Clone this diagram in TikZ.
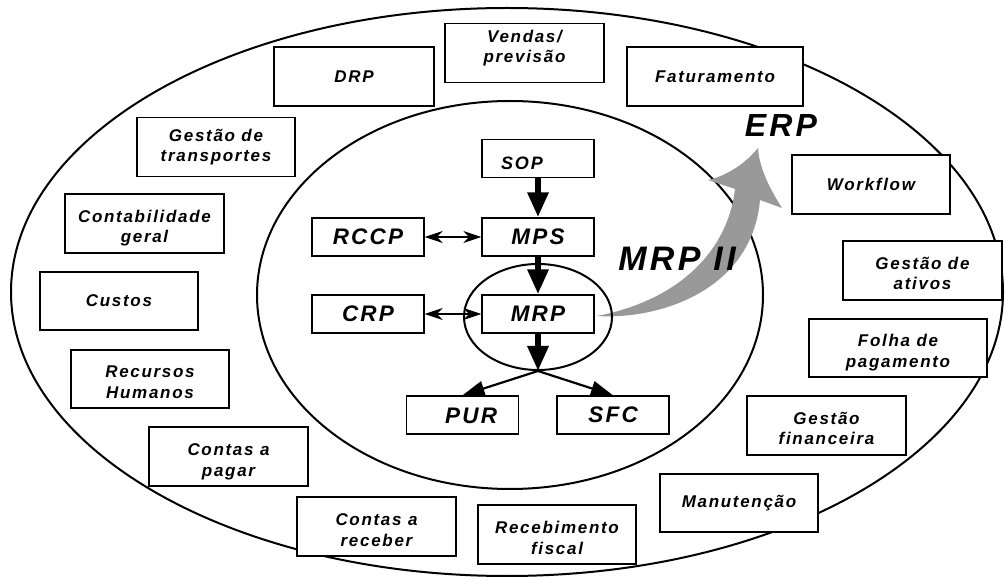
\documentclass[tikz,border=0pt]{standalone}
\usepackage{fontspec}
\setmainfont{Liberation Sans}
\newfontfamily\boxfont[LetterSpace=10]{Liberation Sans}
\usetikzlibrary{arrows.meta}

\begin{document}
\begin{tikzpicture}[x=1pt,y=-1pt,
	outbox/.style={draw, fill=white, line width=1.4pt, minimum width=159pt, minimum height=59pt, inner sep=0pt, align=center, font=\boxfont\bfseries\itshape\fontsize{17}{20.5}\selectfont},
	twoline/.style={text height=39pt, text depth=0pt},
	inbox/.style={draw, fill=white, line width=1.4pt, minimum width=112pt, minimum height=38pt, inner sep=0pt, font=\boxfont\bfseries\itshape\fontsize{22.5}{26}\selectfont},
	intext/.style={inner sep=0pt, font=\boxfont\bfseries\itshape\fontsize{22.5}{26}\selectfont},
	bigarrow/.style={line width=6pt, -{Triangle[length=25pt,width=20pt]}},
	thinarrow/.style={line width=2.2pt, -{Triangle[length=22pt,width=15pt]}},
	dblarrow/.style={line width=1.3pt, {Stealth[length=18pt,width=12pt]}-{Stealth[length=18pt,width=12pt]}}]

		\definecolor{arrowGray}{RGB}{153,153,153}

		\useasboundingbox (0,0) rectangle (1005,577);

		% rings
		\draw[line width=2pt] (507,292) ellipse [x radius=496pt, y radius=284pt];
		\draw[line width=2pt] (510,295) ellipse [x radius=253pt, y radius=194pt];

		% MRP -> ERP
		\fill[arrowGray] (597,316) .. controls (660,320) and (752,290) .. (760,200) -- (782,208)
			.. controls (768,186) and (759,166) .. (758,148) .. controls (745,164) and (726,176) .. (708,180)
			-- (735,189) .. controls (728,250) and (680,300) .. (597,316) -- cycle;

		\draw[line width=2pt] (538,317) ellipse [x radius=74pt, y radius=53pt];

		\node[inner sep=0pt, font=\boxfont\bfseries\itshape\fontsize{34}{36}\selectfont] (mrpii) at (677,259) {MRP II};
		\node[inner sep=0pt, font=\boxfont\bfseries\itshape\fontsize{32}{36}\selectfont] (erp) at (781,125) {ERP};

		% outer modules
		\node[outbox, text height=20pt, text depth=0pt] (vendas) at (524.5,53) {Vendas/\\previsão};
		\node[outbox, minimum width=160pt] (drp) at (354,76.5) {DRP};
		\node[outbox, minimum width=176pt] (fatur) at (715,76.5) {Faturamento};
		\node[outbox, minimum width=158pt] (transp) at (216,147) {Gestão de\\transportes};
		\node[outbox, minimum width=158pt] (workflow) at (871,184.5) {Workflow};
		\node[outbox, twoline] (contab) at (144.5,223.5) {Contabilidade\\geral};
		\node[outbox, twoline] (ativos) at (922.5,270.5) {Gestão de\\ativos};
		\node[outbox, minimum width=158pt, minimum height=58pt] (custos) at (119,301) {Custos};
		\node[outbox, twoline, minimum width=178pt, minimum height=58pt] (folha) at (898,348) {Folha de\\pagamento};
		\node[outbox, twoline, minimum width=158pt, minimum height=58pt] (rh) at (150,379) {Recursos\\Humanos};
		\node[outbox, twoline] (financ) at (826.5,425.5) {Gestão\\financeira};
		\node[outbox, twoline] (pagar) at (228.5,456.5) {Contas a\\pagar};
		\node[outbox, minimum width=158pt, minimum height=58pt] (manut) at (739,503) {Manutenção};
		\node[outbox, twoline] (receber) at (376.5,526.5) {Contas a\\receber};
		\node[outbox, twoline, minimum width=158pt] (fiscal) at (557,534.5) {Recebimento\\fiscal};

		% MRP II modules
		\node[inbox] (sop) at (538,158.5) {};
			\node[intext, font=\boxfont\bfseries\itshape\fontsize{18}{20}\selectfont] (soptxt) at (522,163) {SOP};
		\node[inbox] (mps) at (538,237) {MPS};
		\node[inbox] (rccp) at (368,237) {RCCP};
		\node[inbox] (mrp) at (538,314) {MRP};
		\node[inbox] (crp) at (368,314) {CRP};
		\node[inbox] (pur) at (462.5,415) {};
			\node[intext] (purtxt) at (471,416) {PUR};
		\node[inbox] (sfc) at (613,415) {SFC};

		\coordinate (split) at (538,371);

		\draw[bigarrow] (sop) -- (mps);
		\draw[bigarrow] (mps) -- (mrp);
		\draw[bigarrow] (mrp) -- (split);
		\draw[thinarrow] (split) -- (pur.north);
		\draw[thinarrow] (split) -- (sfc.north);
		\draw[dblarrow] (rccp) -- (mps);
		\draw[dblarrow] (crp) -- (mrp);

	\end{tikzpicture}
\end{document}
